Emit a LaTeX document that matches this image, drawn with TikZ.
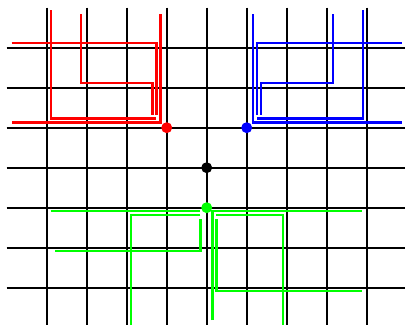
\documentclass[tikz,border=0pt]{standalone}
\begin{document}
\begin{tikzpicture}[x=0.75pt,y=-0.75pt,
  gridline/.style={line width=1.7pt, black},
  wire/.style={line width=1.6pt},
  dot/.style={circle, fill, inner sep=0pt, minimum size=8.2pt}]
\useasboundingbox (0,0) rectangle (405,325);
\clip (0,0) rectangle (405,325);
% grid
\foreach \i in {0,...,8} \draw[gridline] (46.7+40*\i,7.7) -- (46.7+40*\i,327.7);
\foreach \j in {0,...,6} \draw[gridline] (6.7,47.7+40*\j) -- (406.7,47.7+40*\j);
% red
\draw[wire, red] (50.7,10) -- (50.7,118.5) -- (156.5,118.5);
\draw[wire, red] (80.7,14) -- (80.7,82.7) -- (152.5,82.7) -- (152.5,114.5);
\draw[wire, red] (11.7,43.3) -- (156.5,43.3) -- (156.5,114.5);
\draw[wire, red] (160.5,14) -- (160.5,122.5) -- (11.7,122.5);
% blue
\draw[wire, blue] (362.7,10) -- (362.7,118.5) -- (256.9,118.5);
\draw[wire, blue] (332.7,14) -- (332.7,82.7) -- (260.9,82.7) -- (260.9,114.5);
\draw[wire, blue] (401.7,43.3) -- (256.9,43.3) -- (256.9,114.5);
\draw[wire, blue] (252.9,14) -- (252.9,122.5) -- (401.7,122.5);
% green
\draw[wire, green] (50.7,211) -- (200.5,211);
\draw[wire, green] (200.5,215) -- (130.7,215) -- (130.7,330);
\draw[wire, green] (200.5,219) -- (200.5,251) -- (55,251);
\draw[wire, green] (212.5,320) -- (212.5,211) -- (362.3,211);
\draw[wire, green] (216.5,215) -- (283,215) -- (283,330);
\draw[wire, green] (216.5,219) -- (216.5,290.7) -- (362.3,290.7);
% dots
\node[dot, red] (rdot) at (166.7,127.7) {};
\node[dot, blue] (bdot) at (246.7,127.7) {};
\node[dot, black] (kdot) at (206.7,167.7) {};
\node[dot, green] (gdot) at (206.7,207.7) {};
\end{tikzpicture}
\end{document}
